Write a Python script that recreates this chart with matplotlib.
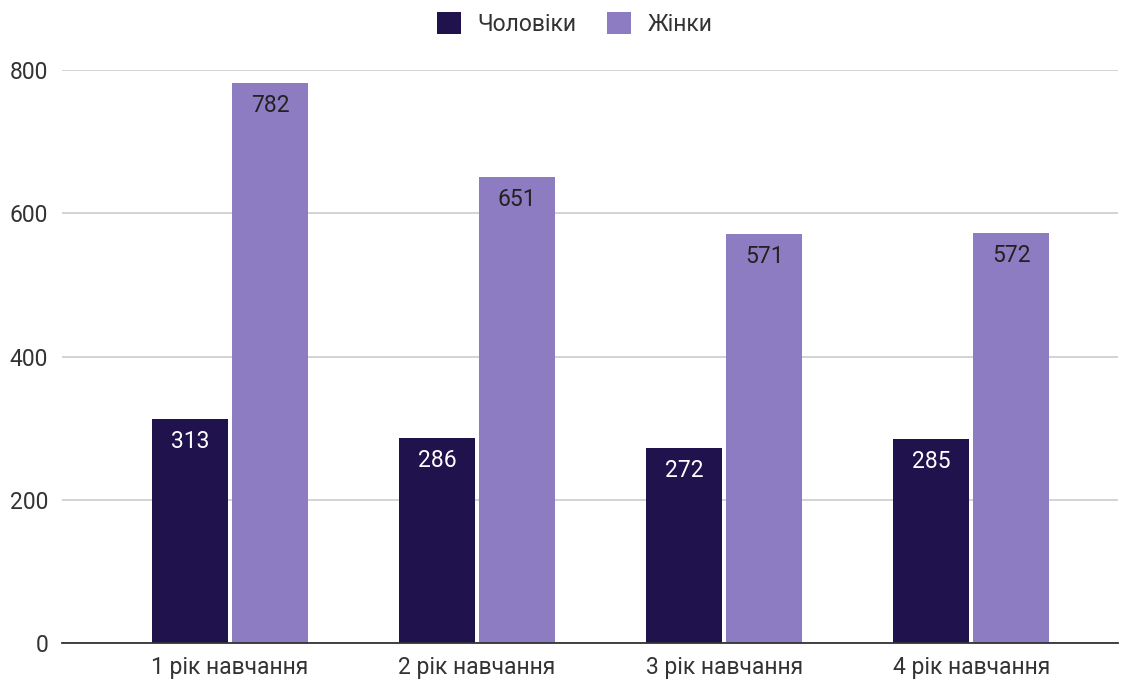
import numpy as np
import matplotlib.pyplot as plt

plt.rcParams['font.family'] = ['Roboto', 'DejaVu Sans']

categories = ['1 рік навчання', '2 рік навчання', '3 рік навчання', '4 рік навчання']
men = [313, 286, 272, 285]
women = [782, 651, 571, 572]

c_men = '#20124d'
c_women = '#8e7cc3'
fs = 16.5

fig = plt.figure(figsize=(11.31, 6.85), dpi=100)
ax = fig.add_axes([0.0548, 0.0613, 0.934, 0.8365])

x = np.arange(len(categories))
w = 0.308
off = 0.162
b1 = ax.bar(x - off, men, w, color=c_men, label='Чоловіки', zorder=3)
b2 = ax.bar(x + off, women, w, color=c_women, label='Жінки', zorder=3)

# value labels just inside the top of each bar
for rect, v in zip(b1, men):
    ax.annotate(str(v), (rect.get_x() + rect.get_width() / 2, v), xytext=(0, -8),
                textcoords='offset points', ha='center', va='top',
                color='white', fontsize=fs, zorder=4)
for rect, v in zip(b2, women):
    ax.annotate(str(v), (rect.get_x() + rect.get_width() / 2, v), xytext=(0, -8),
                textcoords='offset points', ha='center', va='top',
                color='#222222', fontsize=fs, zorder=4)

ax.set_xlim(-0.68, 3.595)
ax.set_ylim(0, 800)
ax.set_yticks([0, 200, 400, 600, 800])
ax.set_xticks(x)
ax.set_xticklabels(categories)
ax.grid(axis='y', color='#cccccc', linewidth=1.2, zorder=0)
ax.tick_params(axis='both', length=0, labelsize=fs, labelcolor='#333333')
ax.tick_params(axis='y', pad=10)
ax.tick_params(axis='x', pad=9)
for s in ['top', 'right', 'left']:
    ax.spines[s].set_visible(False)
ax.spines['bottom'].set_color('#333333')
ax.spines['bottom'].set_linewidth(1.3)
ax.spines['bottom'].set_zorder(5)

fig.legend(loc='upper center', bbox_to_anchor=(0.508, 1.012), ncol=2, frameon=False,
           fontsize=fs, handlelength=1.05, handleheight=1.05, columnspacing=1.35,
           handletextpad=0.72, labelcolor='#333333')

fig.savefig('out.png', dpi=100)
